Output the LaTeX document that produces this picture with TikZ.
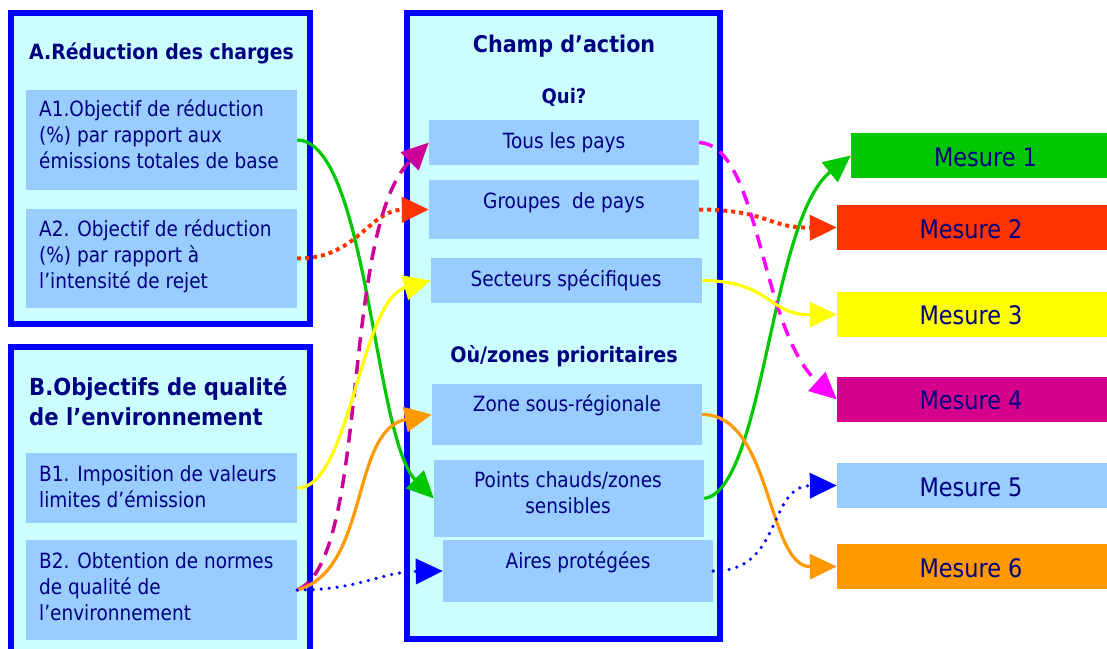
\documentclass[tikz,border=0pt]{standalone}
\usepackage{fontspec}
\setmainfont{DejaVu Sans}[FakeStretch=0.88]
\newfontfamily\tfont{DejaVu Sans}[FakeStretch=0.9]
\usetikzlibrary{arrows.meta,calc}
\definecolor{bord}{HTML}{0000FF}
\definecolor{panelc}{HTML}{CCFFFF}
\definecolor{iboxc}{HTML}{99CCFF}
\definecolor{navy}{HTML}{000080}
\definecolor{cgreen}{HTML}{00C800}
\definecolor{cred}{HTML}{FF3300}
\definecolor{cyellow}{HTML}{FFFF00}
\definecolor{cmagbox}{HTML}{D4008C}
\definecolor{cmag}{HTML}{CC0099}
\definecolor{cpink}{HTML}{FF00FF}
\definecolor{corange}{HTML}{FF9900}
\definecolor{cblue}{HTML}{0000FF}
\tikzset{
  panel/.style={draw=bord, line width=6pt, fill=panelc, inner sep=0pt},
  ib/.style={fill=iboxc, inner sep=0pt},
  mbox/.style={inner sep=0pt, minimum width=273pt, minimum height=45pt},
  txt/.style={text=navy, inner sep=0pt, font=\fontsize{21}{26}\selectfont},
  ltxt/.style={txt, align=left, anchor=base west},
  ctxt/.style={txt, anchor=base},
  ttl/.style={text=navy, inner sep=0pt, font=\tfont\bfseries\fontsize{21}{30}\selectfont},
  mtxt/.style={text=navy, inner sep=0pt, anchor=base, font=\fontsize{25.5}{30}\selectfont},
  arr/.style={-{Triangle[length=27pt,width=25pt]}},
  solidc/.style={arr, line width=3.2pt},
  reddot/.style={arr, line width=4pt, dash pattern=on 4pt off 4pt, draw=cred},
  bluedot/.style={arr, line width=3.6pt, line cap=round, dash pattern=on 0pt off 8pt, draw=cblue},
  magdash/.style={arr, line width=3.5pt, dash pattern=on 14pt off 9pt},
}
\begin{document}
\begin{tikzpicture}[x=1pt,y=-1pt]
\useasboundingbox (0,0) rectangle (1107,648);
\clip (0,0) rectangle (1107,648);
% panels
\node[panel, minimum width=299pt, minimum height=311pt] (pa) at (160.5,168.5) {};
\node[panel, minimum width=299pt, minimum height=320pt] (pb) at (160.5,507) {};
\node[panel, minimum width=313pt, minimum height=626pt] (pc) at (563.5,326) {};
% left inner boxes
\node[ib, minimum width=271pt, minimum height=100pt] (a1) at (161.5,140) {};
\node[ib, minimum width=271pt, minimum height=99pt] (a2) at (161.5,258.5) {};
\node[ib, minimum width=271pt, minimum height=70pt] (b1) at (161.5,488) {};
\node[ib, minimum width=271pt, minimum height=100pt] (b2) at (161.5,590) {};
% center inner boxes
\node[ib, minimum width=270pt, minimum height=45pt] (tous) at (564,142.5) {};
\node[ib, minimum width=270pt, minimum height=59pt] (grp) at (564,209.5) {};
\node[ib, minimum width=271pt, minimum height=45pt] (sec) at (566.5,280.5) {};
\node[ib, minimum width=270pt, minimum height=61pt] (zone) at (567,414.5) {};
\node[ib, minimum width=270pt, minimum height=77pt] (pch) at (569,498.5) {};
\node[ib, minimum width=270pt, minimum height=62pt] (aires) at (578,571) {};
% measures
\node[mbox, fill=cgreen, minimum width=259pt] (m1) at (980.5,155.5) {};
\node[mbox, fill=cred] (m2) at (973.5,227.5) {};
\node[mbox, fill=cyellow] (m3) at (973.5,314.5) {};
\node[mbox, fill=cmagbox] (m4) at (973.5,399.5) {};
\node[mbox, fill=iboxc] (m5) at (973.5,485.5) {};
\node[mbox, fill=corange] (m6) at (973.5,566.5) {};
% titles
\node[ttl, anchor=base west] (tA) at (29,59) {A.Réduction des charges};
\node[ttl, anchor=base west, align=left, font=\tfont\bfseries\fontsize{23.5}{30}\selectfont] (tB) at (29,425) {B.Objectifs de qualité\\de l’environnement};
\node[ttl, anchor=base, font=\tfont\bfseries\fontsize{23}{30}\selectfont] (tC) at (564,52) {Champ d’action};
\node[ttl, anchor=base, font=\tfont\bfseries\fontsize{20}{26}\selectfont] (tQ) at (564,103) {Qui?};
\node[ttl, anchor=base, font=\tfont\bfseries\fontsize{21.3}{26}\selectfont] (tO) at (564,362) {Où/zones prioritaires};
% left texts (anchor = baseline of the last line)
\node[ltxt] (a1t) at (39,168) {A1.Objectif de réduction\\(\%) par rapport aux\\émissions totales de base};
\node[ltxt] (a2t) at (39,288) {A2. Objectif de réduction\\(\%) par rapport à\\l’intensité de rejet};
\node[ltxt] (b1t) at (39,507) {B1. Imposition de valeurs\\limites d’émission};
\node[ltxt] (b2t) at (39,620) {B2. Obtention de normes\\de qualité de\\l’environnement};
% center texts
\node[ctxt] (toust) at (564,148) {Tous les pays};
\node[ctxt] (grpt) at (564,208) {Groupes\ \ de pays};
\node[ctxt] (sect) at (566,286) {Secteurs spécifiques};
\node[ctxt] (zonet) at (567,411) {Zone sous-régionale};
\node[ctxt, align=center] (pcht) at (568,513) {Points chauds/zones\\sensibles};
\node[ctxt] (airest) at (578,568) {Aires protégées};
% measure texts
\node[mtxt] (m1t) at (985.5,166) {Mesure 1};
\node[mtxt] (m2t) at (971,238) {Mesure 2};
\node[mtxt] (m3t) at (971,324) {Mesure 3};
\node[mtxt] (m4t) at (971,409) {Mesure 4};
\node[mtxt] (m5t) at (971,496) {Mesure 5};
\node[mtxt] (m6t) at (971,577) {Mesure 6};
% connectors left
\draw[solidc, draw=cgreen] (a1.east) .. controls (367,141) and (374,438) .. (pch.west);
\draw[reddot] (a2.east) .. controls (357,259) and (369,210) .. (grp.west);
\draw[magdash, draw=cmag] (b2.east) .. controls (370,560) and (340,230) .. (tous.west);
\draw[solidc, draw=cyellow] (b1.east) .. controls (350,489) and (360,300) .. (sec.west);
\draw[solidc, draw=corange] (b2.east) .. controls (370,570) and (350,430) .. (zone.west);
\draw[bluedot] (b2.east) .. controls (360,590) and (380,572) .. (aires.west);
% connectors right
\draw[solidc, draw=cgreen] (pch.east) .. controls (764,490) and (770,220) .. (m1.west);
\draw[reddot] (grp.east) .. controls (769,210) and (767,228) .. (m2.west);
\draw[magdash, draw=cpink] (tous.east) .. controls (760,145) and (760,330) .. (m4.west);
\draw[solidc, draw=cyellow] (sec.east) .. controls (772,281) and (767,315) .. (m3.west);
\draw[solidc, draw=corange] (zone.east) .. controls (772,414) and (767,567) .. (m6.west);
\draw[bluedot] (aires.east) .. controls (783,572) and (767,486) .. (m5.west);
\end{tikzpicture}
\end{document}
